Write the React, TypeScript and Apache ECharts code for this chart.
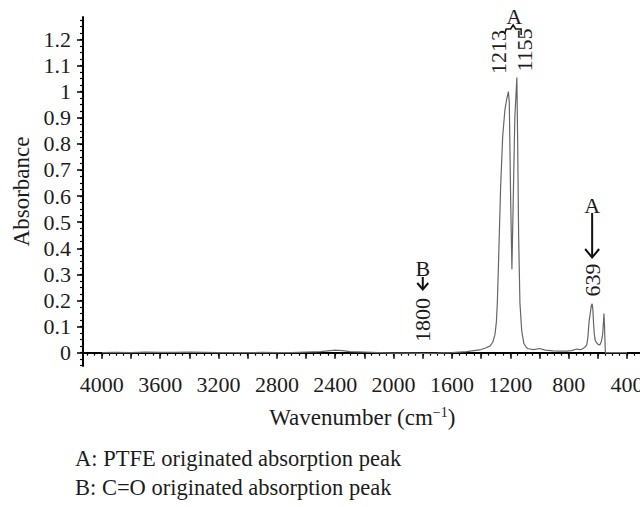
import React, { useEffect, useRef } from "react";
import * as echarts from "echarts";

// FTIR spectrum: wavenumber (cm-1) vs absorbance
const wavenumber = [
  4000, 3900, 3800, 3700, 3600, 3500, 3400, 3300, 3200, 3100, 3000, 2900, 2800,
  2700, 2600, 2500, 2450, 2400, 2350, 2300, 2200, 2100, 2000, 1900, 1800, 1700,
  1600, 1550, 1500, 1450, 1400, 1370, 1340, 1320, 1305, 1295, 1289, 1283, 1276,
  1266, 1252, 1237, 1225, 1213, 1207, 1198, 1189, 1180, 1169, 1155, 1150, 1143,
  1134, 1122, 1107, 1090, 1077, 1040, 1000, 960, 907, 860, 814, 780, 745, 725,
  711, 690, 676, 668, 660, 652, 645, 639, 634, 629, 624, 617, 608, 598, 586, 575,
  567, 561, 558, 554, 552, 549, 547, 540, 500, 450, 400,
];
const absorbance = [
  0.0, 0.001, 0.0, 0.002, 0.001, 0.001, 0.002, 0.001, 0.0, 0.0, 0.0, 0.001, 0.0,
  0.0, 0.002, 0.004, 0.007, 0.01, 0.008, 0.004, 0.002, 0.0, -0.002, -0.002,
  -0.003, -0.002, 0.0, 0.002, 0.004, 0.008, 0.012, 0.018, 0.025, 0.04, 0.07, 0.12,
  0.19, 0.3, 0.44, 0.64, 0.83, 0.93, 0.97, 1.0, 0.96, 0.6, 0.32, 0.58, 0.9, 1.054,
  0.83, 0.45, 0.19, 0.085, 0.035, 0.02, 0.015, 0.012, 0.016, 0.01, 0.007, 0.006,
  0.006, 0.008, 0.014, 0.012, 0.013, 0.02, 0.03, 0.06, 0.12, 0.15, 0.18, 0.187,
  0.165, 0.11, 0.07, 0.045, 0.038, 0.032, 0.03, 0.045, 0.07, 0.12, 0.15, 0.1, 0.06,
  0.01, -0.002, 0.0, 0.0, 0.0, 0.0,
];

// Axis ticks and labels
const xLabelValues = [4000, 3600, 3200, 2800, 2400, 2000, 1600, 1200, 800, 400];
const xMajorTicks = [
  4000, 3800, 3600, 3400, 3200, 3000, 2800, 2600, 2400, 2200, 2000, 1800, 1600,
  1400, 1200, 1000, 800, 600, 400,
];
const yLabelValues = [0, 0.1, 0.2, 0.3, 0.4, 0.5, 0.6, 0.7, 0.8, 0.9, 1, 1.1, 1.2];

// Peak annotations
const peakGroupA = [1213, 1155];
const peakA2 = 639;
const peakB = 1800;
const captions = [
  "A: PTFE originated absorption peak",
  "B: C=O originated absorption peak",
];

const FONT = '"Liberation Serif", "DejaVu Serif", serif';
const INK = "#1c1c1c";

const xMinorTicks: number[] = [];
for (let v = 4100; v >= 350; v -= 50) xMinorTicks.push(v);
const yMinorTicks: number[] = [];
for (let i = -2; i <= 51; i++) yMinorTicks.push(Math.round(i * 25) / 1000);

const X_MIN = 300;
const X_MAX = 4129;
const Y_MIN = -0.051;
const Y_MAX = 1.286;

export default function App() {
  const ref = useRef<HTMLDivElement>(null);

  useEffect(() => {
    if (!ref.current) return;
    const chart = echarts.init(ref.current, null, { renderer: "svg" });

    const axisCommon = {
      type: "value" as const,
      min: X_MIN,
      max: X_MAX,
      inverse: true,
      position: "bottom" as const,
      splitLine: { show: false },
    };
    const yCommon = {
      type: "value" as const,
      min: Y_MIN,
      max: Y_MAX,
      position: "left" as const,
      splitLine: { show: false },
    };

    chart.setOption({
      animation: false,
      backgroundColor: "#ffffff",
      grid: {
        left: 83,
        top: 17,
        width: 558.6,
        height: 349,
        containLabel: false,
        outerBoundsMode: "none",
      },
      xAxis: [
        {
          ...axisCommon,
          name: "Wavenumber (cm{sup|\u22121})",
          nameLocation: "middle",
          nameGap: 39,
          nameTextStyle: {
            fontFamily: FONT,
            fontSize: 23,
            color: INK,
            rich: {
              sup: {
                fontFamily: FONT,
                fontSize: 14,
                color: INK,
                padding: [0, 0, 10, 0],
              },
            },
          },
          axisLine: { show: true, lineStyle: { color: "#000", width: 2 } },
          axisTick: {
            show: true,
            length: 6,
            customValues: xMajorTicks,
            lineStyle: { color: "#000", width: 1.5 },
          },
          axisLabel: {
            show: true,
            customValues: xLabelValues,
            margin: 7,
            fontFamily: FONT,
            fontSize: 22,
            color: INK,
            hideOverlap: false,
            formatter: (v: number) => String(v),
          },
        },
        {
          ...axisCommon,
          axisLine: { show: false },
          axisLabel: { show: false },
          axisTick: {
            show: true,
            length: 3,
            customValues: xMinorTicks,
            lineStyle: { color: "#000", width: 1.2 },
          },
        },
      ],
      yAxis: [
        {
          ...yCommon,
          name: "Absorbance",
          nameLocation: "middle",
          nameGap: 46,
          nameTextStyle: { fontFamily: FONT, fontSize: 23, color: INK },
          axisLine: { show: true, lineStyle: { color: "#000", width: 2 } },
          axisTick: {
            show: true,
            length: 6,
            customValues: yLabelValues,
            lineStyle: { color: "#000", width: 1.5 },
          },
          axisLabel: {
            show: true,
            customValues: yLabelValues,
            margin: 12,
            fontFamily: FONT,
            fontSize: 22,
            color: INK,
            formatter: (v: number) => String(v),
          },
        },
        {
          ...yCommon,
          axisLine: { show: false },
          axisLabel: { show: false },
          axisTick: {
            show: true,
            length: 3,
            customValues: yMinorTicks,
            lineStyle: { color: "#000", width: 1.2 },
          },
        },
      ],
      series: [
        {
          type: "line",
          xAxisIndex: 0,
          yAxisIndex: 0,
          data: wavenumber.map((w, i) => [w, absorbance[i]]),
          showSymbol: false,
          symbol: "none",
          lineStyle: { color: "#666666", width: 1.2 },
          silent: true,
        },
      ],
    });

    // Annotation overlay anchored to the axes' scale
    const toX = (w: number) =>
      chart.convertToPixel({ xAxisIndex: 0, yAxisIndex: 0 }, [w, 0])[0] as number;

    const txt = (
      text: string,
      x: number,
      y: number,
      rotate = false,
      extra: Record<string, unknown> = {}
    ) => ({
      type: "text",
      x,
      y,
      rotation: rotate ? Math.PI / 2 : 0,
      style: {
        text,
        fontFamily: FONT,
        fontSize: 22,
        fill: INK,
        align: "center",
        verticalAlign: "middle",
        ...extra,
      },
      silent: true,
    });

    const x1213 = toX(peakGroupA[0]);
    const x1155 = toX(peakGroupA[1]);
    const xBrace = (x1213 + x1155) / 2;
    const x639 = toX(peakA2);
    const x1800 = toX(peakB);
    const stroke = { stroke: "#111", lineWidth: 2, fill: "none" };

    chart.setOption({
      graphic: [
        txt(String(peakGroupA[0]), x1213 - 9.5, 52, true),
        txt(String(peakGroupA[1]), x1155 + 8, 50, true),
        {
          type: "polyline",
          shape: {
            points: [
              [xBrace - 8, 34],
              [xBrace - 6.5, 29],
              [xBrace - 2, 29],
              [xBrace + 0.5, 25],
              [xBrace + 3, 29],
              [xBrace + 8.5, 29],
              [xBrace + 8.5, 35],
            ],
          },
          style: { stroke: "#111", lineWidth: 1.5, fill: "none" },
          silent: true,
        },
        txt("A", xBrace + 1.5, 16),
        // 639 arrow
        txt("A", x639, 205),
        { type: "line", shape: { x1: x639, y1: 213, x2: x639, y2: 257 }, style: stroke, silent: true },
        {
          type: "polyline",
          shape: { points: [[x639 - 7, 249], [x639, 257.5], [x639 + 7, 249]] },
          style: stroke,
          silent: true,
        },
        txt(String(peakA2), x639, 280, true),
        // 1800 arrow
        txt("B", x1800, 268),
        { type: "line", shape: { x1: x1800, y1: 277, x2: x1800, y2: 289 }, style: stroke, silent: true },
        {
          type: "polyline",
          shape: { points: [[x1800 - 5.5, 283], [x1800, 289.5], [x1800 + 5.5, 283]] },
          style: stroke,
          silent: true,
        },
        txt(String(peakB), x1800, 320, true),
        // Legend notes
        txt(captions[0], 75, 458, false, { align: "left", fontSize: 22.5 }),
        txt(captions[1], 75, 487, false, { align: "left", fontSize: 22.5 }),
      ],
    });

    return () => chart.dispose();
  }, []);

  return (
    <div
      ref={ref}
      style={{ position: "absolute", left: 0, top: 0, width: 640, height: 507 }}
    />
  );
}
